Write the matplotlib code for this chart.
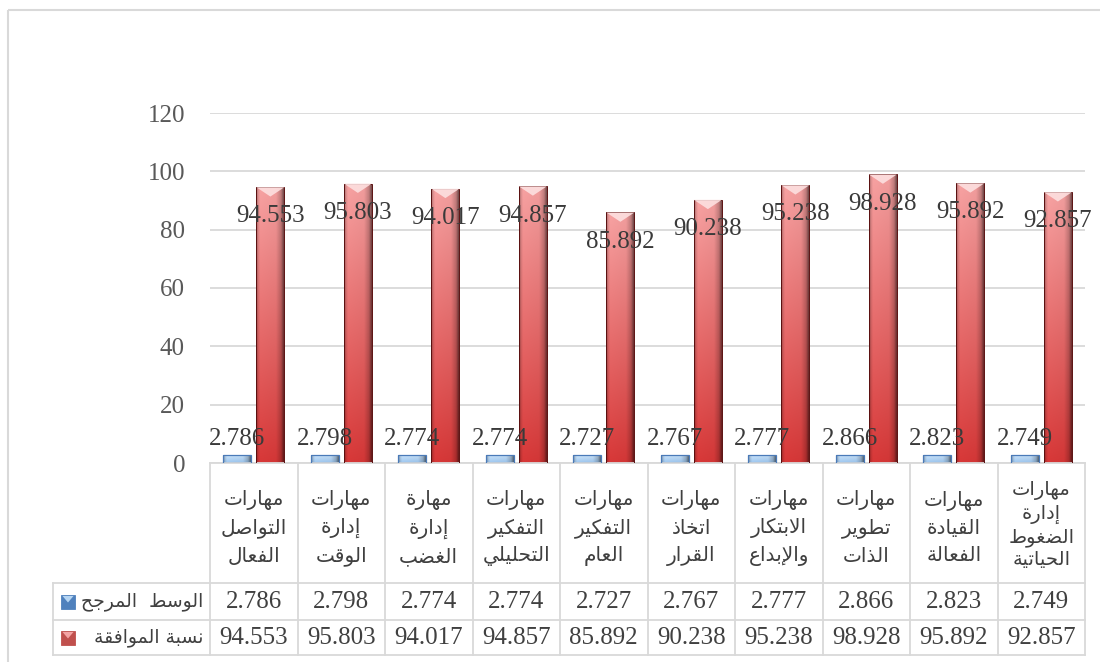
import numpy as np
import matplotlib
matplotlib.use('Agg')
import matplotlib.pyplot as plt
from matplotlib.colors import to_rgb
from matplotlib.patches import Rectangle, Polygon
from matplotlib.transforms import blended_transform_factory

# data
categories = [
    'مهارات\nالتواصل\nالفعال',
    'مهارات\nإدارة\nالوقت',
    'مهارة\nإدارة\nالغضب',
    'مهارات\nالتفكير\nالتحليلي',
    'مهارات\nالتفكير\nالعام',
    'مهارات\nاتخاذ\nالقرار',
    'مهارات\nالابتكار\nوالإبداع',
    'مهارات\nتطوير\nالذات',
    'مهارات\nالقيادة\nالفعالة',
    'مهارات\nإدارة\nالضغوط\nالحياتية',
]
series_names = ['الوسط  المرجح', 'نسبة الموافقة']
weighted_mean = [2.786, 2.798, 2.774, 2.774, 2.727, 2.767, 2.777, 2.866, 2.823, 2.749]
agreement = [94.553, 95.803, 94.017, 94.857, 85.892, 90.238, 95.238, 98.928, 95.892, 92.857]
yticks = [0, 20, 40, 60, 80, 100, 120]

# matplotlib does no arabic shaping, so map letters to presentation forms by hand
AR_LETTERS = 'ءآأؤإئابةتثجحخدذرزسشصضطظعغفقكلمنهوىي'
AR_NFORMS = [1, 2, 2, 2, 2, 4, 2, 4, 2, 4, 4, 4, 4, 4, 2, 2, 2, 2, 4, 4, 4, 4,
             4, 4, 4, 4, 4, 4, 4, 4, 4, 4, 4, 2, 2, 4]
AR_BASE = {}
code = 0xFE80
for ch, n in zip(AR_LETTERS, AR_NFORMS):
    AR_BASE[ch] = (code, n)
    code += n
LAM_ALEF = {'آ': 0xFEF5, 'أ': 0xFEF7, 'إ': 0xFEF9, 'ا': 0xFEFB}


def shape_line(s):
    out = []
    prev_joins = False
    i = 0
    while i < len(s):
        ch = s[i]
        if ch not in AR_BASE:
            out.append(ch)
            prev_joins = False
            i += 1
            continue
        if ch == 'ل' and i + 1 < len(s) and s[i + 1] in LAM_ALEF:
            out.append(chr(LAM_ALEF[s[i + 1]] + (1 if prev_joins else 0)))
            prev_joins = False
            i += 2
            continue
        base, n = AR_BASE[ch]
        nxt = s[i + 1] if i + 1 < len(s) else ''
        joins_next = n == 4 and nxt in AR_BASE and AR_BASE[nxt][1] > 1
        if n == 1:
            form = 0
        elif prev_joins and joins_next:
            form = 3
        elif prev_joins:
            form = 1
        elif joins_next:
            form = 2
        else:
            form = 0
        out.append(chr(base + form))
        prev_joins = joins_next
        i += 1
    return ''.join(out)[::-1]


def ar(text):
    return '\n'.join(shape_line(l) for l in text.split('\n'))


NUM_FONT = ['Liberation Serif', 'DejaVu Serif']
AR_FONT = ['DejaVu Sans']
GRID = '#d9d9d9'

fig = plt.figure(figsize=(11, 6.62), dpi=100)
ax = fig.add_axes([210 / 1100, 1 - 463 / 662, 875 / 1100, 350 / 662])
ov = fig.add_axes([0, 0, 1, 1], zorder=-1)
ov.set_xlim(0, 1100)
ov.set_ylim(662, 0)
ov.axis('off')


def shade(bars, bottom_col, top_col):
    # vertical colour ramp, darkened towards the side edges like a cylinder
    t = np.linspace(0, 1, 80)[:, None]
    ramp = np.array(to_rgb(bottom_col)) * (1 - t) + np.array(to_rgb(top_col)) * t
    xs = np.linspace(0, 1, 64)
    f = np.interp(xs, [0, 0.05, 0.14, 0.72, 0.9, 1.0],
                  [0.5, 0.85, 1.0, 0.97, 0.78, 0.45])
    img = np.clip(ramp[:, None, :] * f[None, :, None], 0, 1)
    for rect in bars:
        x0, w, h = rect.get_x(), rect.get_width(), rect.get_height()
        im = ax.imshow(img, extent=(x0, x0 + w, 0, h), origin='lower',
                       aspect='auto', zorder=2, interpolation='bilinear')
        im.set_clip_path(rect)


x = np.arange(len(categories))
width = 0.32
b1 = ax.bar(x - 0.19, weighted_mean, width, facecolor='none',
            edgecolor='#4a7ab8', linewidth=0.9, zorder=3)
b2 = ax.bar(x + 0.19, agreement, width, facecolor='none',
            edgecolor='#5a1010', linewidth=0.7, zorder=3)
shade(b1, '#9cc6f0', '#cfe6fb')
shade(b2, '#d83838', '#f7a2a2')

# light cone tip on top of the red bars
for rect in b2:
    x0, w, h = rect.get_x(), rect.get_width(), rect.get_height()
    ax.add_patch(Polygon([(x0, h), (x0 + w, h), (x0 + w / 2, h - 3.2)],
                         closed=True, facecolor='#fde0e0', edgecolor='none',
                         alpha=0.9, zorder=3))

for i in range(len(categories)):
    ax.text(x[i] - 0.19, weighted_mean[i] + 5.4, f'{weighted_mean[i]:.3f}',
            ha='center', va='center', fontsize=18, family=NUM_FONT,
            color='#3a3a3a', zorder=5)
    ax.text(x[i] + 0.19, agreement[i] - 10, f'{agreement[i]:.3f}',
            ha='center', va='center', fontsize=18, family=NUM_FONT,
            color='#3a3a3a', zorder=5)

ax.set_xlim(-0.5, len(categories) - 0.5)
ax.set_ylim(0, 120)
ax.set_yticks(yticks)
ax.set_xticks([])
ax.yaxis.grid(True, color=GRID, linewidth=1.3)
ax.set_axisbelow(True)
for s in ['top', 'right', 'left']:
    ax.spines[s].set_visible(False)
ax.spines['bottom'].set_color(GRID)
ax.spines['bottom'].set_linewidth(1.3)
ax.tick_params(axis='y', length=0, pad=18, labelsize=18, labelcolor='#595959')
for lab in ax.get_yticklabels():
    lab.set_family(NUM_FONT)
ax.patch.set_alpha(0)

# data table under the chart
tr = blended_transform_factory(ax.transData, ov.transData)
top, hdr, mid, bot = 463, 583, 620, 655
key_left = 53
for e in np.arange(len(categories) + 1) - 0.5:
    ov.plot([e, e], [top, bot], color=GRID, lw=1.3, transform=tr, clip_on=False)
ov.plot([key_left, key_left], [hdr, bot], color=GRID, lw=1.3)
for yy in [hdr, mid, bot]:
    ov.plot([key_left, 1085], [yy, yy], color=GRID, lw=1.3)

for i, cat in enumerate(categories):
    nlines = cat.count('\n') + 1
    ov.text(x[i], (top + hdr) / 2 + (5 if nlines == 3 else 2), ar(cat),
            ha='center', va='center', multialignment='center',
            fontsize=14.5 if nlines == 3 else 14,
            family=AR_FONT, color='#404040',
            linespacing=1.55 if nlines == 3 else 1.22, transform=tr)
    ov.text(x[i], (hdr + mid) / 2, f'{weighted_mean[i]:.3f}', ha='center',
            va='center', fontsize=18, family=NUM_FONT, color='#404040',
            transform=tr)
    ov.text(x[i], (mid + bot) / 2, f'{agreement[i]:.3f}', ha='center',
            va='center', fontsize=18, family=NUM_FONT, color='#404040',
            transform=tr)

key_colors = [('#4f81bd', '#b5d5f3'), ('#c0504d', '#f3a3a3')]
for k, (name, (dark, light)) in enumerate(zip(series_names, key_colors)):
    yc = [(hdr + mid) / 2, (mid + bot) / 2][k]
    ov.add_patch(Rectangle((61, yc - 7), 14, 14, facecolor=dark,
                           edgecolor=dark, lw=0.6))
    ov.add_patch(Polygon([(62.5, yc - 5.5), (73.5, yc - 5.5), (68, yc + 1)],
                         closed=True, facecolor=light, edgecolor='none'))
    ov.text(203, yc, ar(name), ha='right', va='center', fontsize=13.5,
            family=AR_FONT, color='#404040')

# outer chart frame
ov.add_patch(Rectangle((7.5, 9.5), 1200, 700, fill=False, edgecolor=GRID,
                       lw=1.5))

fig.savefig('out.png', dpi=100)
